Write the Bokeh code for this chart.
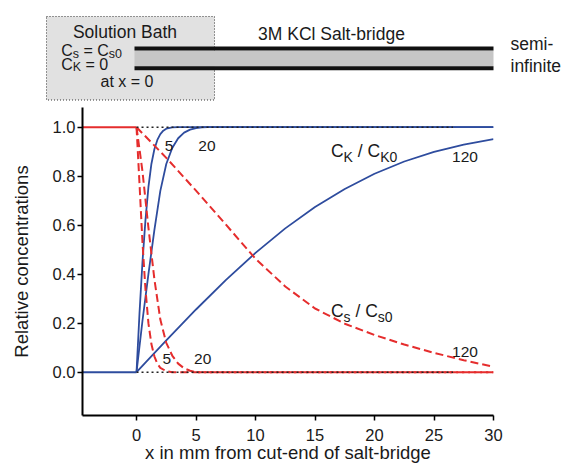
from bokeh.plotting import figure
from bokeh.models import Range1d, FixedTicker, PrintfTickFormatter
from bokeh.layouts import column
from bokeh.embed import file_html
from bokeh.resources import INLINE
from bokeh.core.properties import value

FONT = "Liberation Sans"
BLUE = "#2e4c9e"
RED = "#e52d2d"
TXT = "#1a1a1a"

# ---------------- data ----------------
bath_x = [-5.0, 0.0]
bath_salt = [1.0, 1.0]
bath_k = [0.0, 0.0]

k5_x = [0, 0.25, 0.5, 0.75, 1.0, 1.25, 1.5, 1.75, 2.0, 2.25, 2.5, 3.0, 3.5, 30]
k5_y = [0, 0.24, 0.45, 0.62, 0.755, 0.85, 0.91, 0.948, 0.972, 0.986, 0.994, 0.999, 1.0, 1.0]

k20_x = [0, 0.5, 1.0, 1.5, 2.0, 2.5, 3.0, 3.5, 4.0, 4.5, 5.0, 5.5, 6.0, 30]
k20_y = [0, 0.21, 0.40, 0.58, 0.74, 0.85, 0.915, 0.955, 0.978, 0.99, 0.996, 0.999, 1.0, 1.0]

k120_x = [0, 2.5, 5, 7.5, 10, 12.5, 15, 17.5, 20, 22.5, 25, 27.5, 30]
k120_y = [0, 0.13, 0.256, 0.376, 0.487, 0.587, 0.674, 0.748, 0.81, 0.86, 0.899, 0.929, 0.951]

s5_x = [0, 0.25, 0.5, 0.75, 1.0, 1.25, 1.5, 1.75, 2.0, 2.5, 3.0, 30]
s5_y = [1.0, 0.77, 0.53, 0.34, 0.20, 0.115, 0.065, 0.035, 0.018, 0.004, 0.0, 0.0]

s20_x = [0, 0.5, 1.0, 1.5, 2.0, 2.5, 3.0, 3.5, 4.0, 4.5, 5.0, 30]
s20_y = [1.0, 0.82, 0.59, 0.38, 0.215, 0.12, 0.068, 0.035, 0.016, 0.006, 0.0, 0.0]

s120_x = [0, 2.5, 5, 7.5, 10, 12.5, 15, 17.5, 20, 22.5, 25, 27.5, 30]
s120_y = [1.0, 0.875, 0.741, 0.603, 0.463, 0.35, 0.26, 0.198, 0.152, 0.113, 0.079, 0.049, 0.022]

ref_x = [0.0, 26.6]
ref_top = [1.0, 1.0]
ref_bot = [0.0, 0.0]

x_ticks = [0, 5, 10, 15, 20, 25, 30]
y_ticks = [0.0, 0.2, 0.4, 0.6, 0.8, 1.0]

time_labels = ["5", "20", "120", "5", "20", "120"]

# ---------------- top diagram (coordinates in page pixels) ----------------
top = figure(width=564, height=102, x_range=Range1d(0, 564), y_range=Range1d(102, 0),
             output_backend="svg", toolbar_location=None,
             x_axis_location=None, y_axis_location=None, frame_align=False,
             min_border_left=0, min_border_right=0, min_border_top=0, min_border_bottom=0)
top.grid.visible = False
top.outline_line_color = None

top.quad(left=[46], right=[214], top=[16], bottom=[99.5], fill_color="#e1e1e1",
         line_color="#333333", line_dash="1 2", line_width=1)
top.quad(left=[134], right=[493], top=[50], bottom=[66], fill_color="#c6c6c6", line_color=None)
top.segment(x0=[134, 134], y0=[48, 67.8], x1=[493, 493], y1=[48, 67.8],
            line_width=4, line_color="#111111")

def ttext(fig, x, y, t, size, align="left", xo=0, yo=0):
    fig.text(x=[x], y=[y], text=[t], text_font=value(FONT), text_font_size=size,
             text_align=align, text_baseline="middle", text_color=TXT,
             x_offset=xo, y_offset=yo)

ttext(top, 124.5, 31.5, "Solution Bath", "17.5px", "center")
ttext(top, 331, 33, "3M KCl Salt-bridge", "17.5px", "center")
ttext(top, 510, 43.7, "semi-", "17.5px")
ttext(top, 510, 65.2, "infinite", "17.5px")
# C_s = C_s0
ttext(top, 60.7, 50.3, "C", "16px")
ttext(top, 60.7, 50.3, "s", "12.5px", xo=11.55, yo=3.2)
ttext(top, 60.7, 50.3, "= C", "16px", xo=22.25)
ttext(top, 60.7, 50.3, "s0", "12.5px", xo=47.6, yo=3.2)
# C_K = 0
ttext(top, 60.7, 63.7, "C", "16px")
ttext(top, 60.7, 63.7, "K", "12.5px", xo=11.55, yo=3.2)
ttext(top, 60.7, 63.7, "= 0", "16px", xo=24.3)
ttext(top, 100, 81.3, "at x = 0", "16px")

# ---------------- main chart ----------------
p = figure(width=564, height=364, x_range=Range1d(-4.54, 30), y_range=Range1d(-0.1767, 1.0804),
           output_backend="svg", toolbar_location=None, frame_align=False,
           min_border_left=82, min_border_right=71, min_border_top=5, min_border_bottom=51)
p.grid.visible = False
p.outline_line_color = None

p.line(bath_x, bath_salt, line_color=RED, line_width=2)
p.line(bath_x, bath_k, line_color=BLUE, line_width=2)

for xs, ys in ((k5_x, k5_y), (k20_x, k20_y), (k120_x, k120_y)):
    p.line(xs, ys, line_color=BLUE, line_width=1.8)
for xs, ys in ((s5_x, s5_y), (s20_x, s20_y), (s120_x, s120_y)):
    p.line(xs, ys, line_color=RED, line_width=2, line_dash="8 4")

p.line(ref_x, ref_top, line_color="#222222", line_width=1.5, line_dash="2 3")
p.line(ref_x, ref_bot, line_color="#222222", line_width=1.5, line_dash="2 3")

lab_x = [2.73, 5.92, 27.6, 2.55, 5.56, 27.6]
lab_y = [0.925, 0.925, 0.879, 0.053, 0.053, 0.081]
p.text(x=lab_x, y=lab_y, text=time_labels, text_font=value(FONT), text_font_size="15.5px",
       text_align="center", text_baseline="middle", text_color=TXT)

def ptext(x, y, t, size, xo=0, yo=0):
    p.text(x=[x], y=[y], text=[t], text_font=value(FONT), text_font_size=size,
           text_align="left", text_baseline="middle", text_color=TXT,
           x_offset=xo, y_offset=yo)

# C_K / C_K0
ptext(16.34, 0.903, "C", "17.5px")
ptext(16.34, 0.903, "K", "14px", xo=12.6, yo=5.7)
ptext(16.34, 0.903, "/ C", "17.5px", xo=26.8)
ptext(16.34, 0.903, "K0", "14px", xo=49.2, yo=5.7)
# C_s / C_s0
ptext(16.34, 0.248, "C", "17.5px")
ptext(16.34, 0.248, "s", "14px", xo=12.6, yo=5.7)
ptext(16.34, 0.248, "/ C", "17.5px", xo=24.5)
ptext(16.34, 0.248, "s0", "14px", xo=46.9, yo=5.7)

for ax in (p.xaxis[0], p.yaxis[0]):
    ax.axis_line_width = 2
    ax.axis_line_color = "black"
    ax.major_tick_line_width = 1.5
    ax.major_tick_line_color = "black"
    ax.major_tick_out = 5
    ax.major_tick_in = 0
    ax.minor_tick_line_color = None
    ax.major_label_text_font = FONT
    ax.major_label_text_font_size = "16.5px"
    ax.major_label_text_color = TXT
    ax.axis_label_text_font = FONT
    ax.axis_label_text_font_size = "18.5px"
    ax.axis_label_text_font_style = "normal"
    ax.axis_label_text_color = TXT

p.xaxis[0].ticker = FixedTicker(ticks=x_ticks)
p.yaxis[0].ticker = FixedTicker(ticks=y_ticks)
p.yaxis[0].formatter = PrintfTickFormatter(format="%.1f")
p.xaxis[0].major_label_standoff = 8
p.yaxis[0].major_label_standoff = 2

p.yaxis[0].axis_label = "Relative concentrations"
p.yaxis[0].axis_label_standoff = 18
p.xaxis[0].axis_label = "x in mm from cut-end of salt-bridge"
p.xaxis[0].axis_label_standoff = -2

layout = column(top, p)
open("out.html", "w").write(file_html(layout, INLINE))
